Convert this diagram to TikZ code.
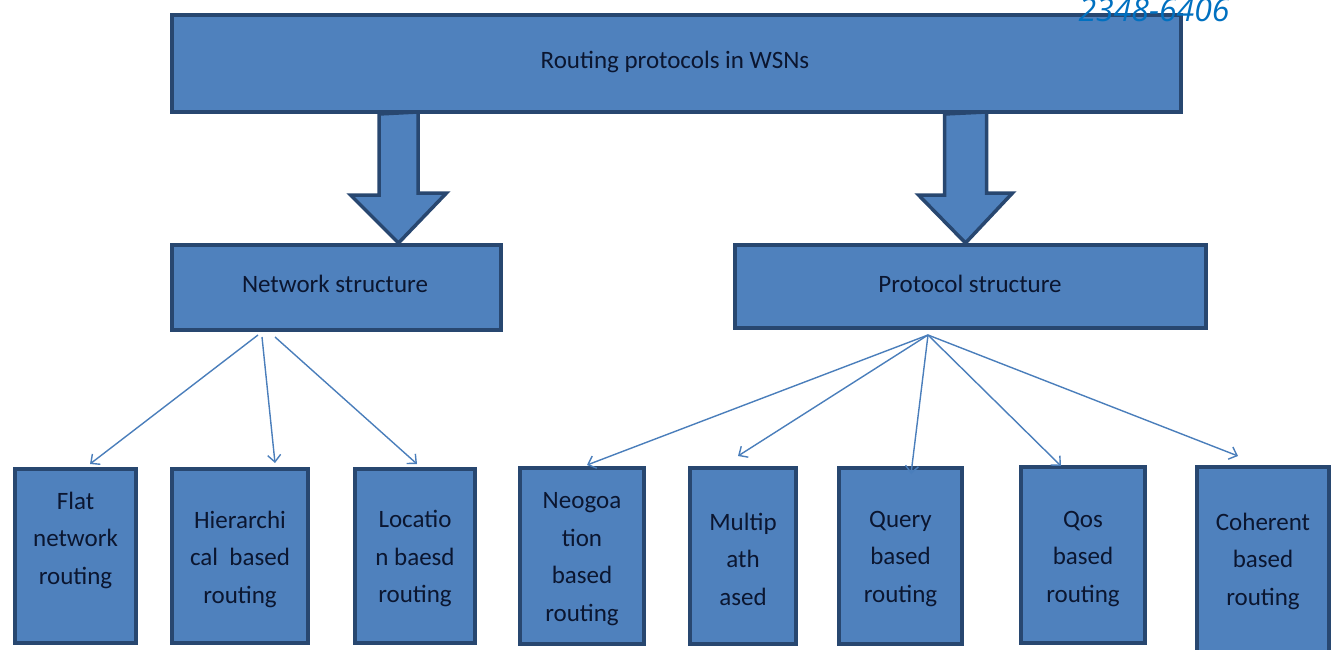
\documentclass[tikz,border=0pt]{standalone}
\usepackage{fontspec}
\setmainfont{Carlito}
\newfontfamily\issnfont{Open Sans}
\usetikzlibrary{arrows.meta,calc}
\definecolor{boxfill}{HTML}{4F81BD}
\definecolor{boxline}{HTML}{284770}
\definecolor{boxtext}{HTML}{0B1630}
\definecolor{linkblue}{HTML}{4A7EBB}
\definecolor{issnblue}{HTML}{0070C0}

\begin{document}
\begin{tikzpicture}[x=1pt,y=-1pt,
  box/.style={draw=boxline, fill=boxfill, line width=4pt, inner sep=0pt,
    text=boxtext, font=\fontsize{25}{37.5}\selectfont, align=center},
  leaf/.style={box, minimum height=174pt},
  txt/.style={inner sep=0pt, text=boxtext, font=\fontsize{25}{37.5}\selectfont, align=center},
  blk/.style={draw=boxline, fill=boxfill, line width=3.5pt, line join=miter},
  link/.style={draw=linkblue, line width=1.4pt,
    -{Straight Barb[length=7pt,width=13pt,line width=1.4pt]}}]
\useasboundingbox (0,0) rectangle (1336,650);

% root and the two classes
\node[box, minimum width=1009pt, minimum height=97pt] (top) at (676.5,63.5) {};
\node[txt] (top-t) at (675,62) {Routing protocols in WSNs};
\node[box, minimum width=329pt, minimum height=85pt] (net) at (336.5,287.5) {};
\node[txt] (net-t) at (335,284) {Network structure};
\node[box, minimum width=471pt, minimum height=83pt] (prot) at (970.5,286.5) {};
\node[txt] (prot-t) at (970,284) {Protocol structure};

% leaf categories
\node[leaf, minimum width=121pt] (flat) at (75.5,556) {};
\node[txt] (flat-t) at (75.5,540) {Flat\\network\\routing};
\node[leaf, minimum width=136pt] (hier) at (240,556) {};
\node[txt] (hier-t) at (240,559) {Hierarchi\\cal\ \ based\\routing};
\node[leaf, minimum width=120pt] (loc) at (415,556) {};
\node[txt] (loc-t) at (415,559) {Locatio\\n baesd\\routing};
\node[leaf, minimum width=124pt, minimum height=176pt] (neg) at (582,556) {};
\node[txt] (neg-t) at (582,559) {Neogoa\\tion\\based\\routing};
\node[leaf, minimum width=106pt, minimum height=176pt] (multi) at (743,556) {};
\node[txt] (multi-t) at (743,559) {Multip\\ath\\ased};
\node[leaf, minimum width=123pt, minimum height=176pt] (query) at (900.5,556) {};
\node[txt] (query-t) at (900.5,559) {Query\\based\\routing};
\node[leaf, minimum width=124pt, minimum height=176pt] (qos) at (1083,555) {};
\node[txt] (qos-t) at (1083,559) {Qos\\based\\routing};
\node[leaf, minimum width=132pt, minimum height=190pt] (coh) at (1263,562) {};
\node[txt] (coh-t) at (1263,561) {Coherent\\based\\routing};

% block arrows from the root to the two classes
\coordinate (la) at (398.5,114);
\coordinate (ra) at (965.5,114);
\draw[blk] ([xshift=-19.5pt]la) -- ++(0,81) -- ++(-28.5,0) -- (la |- net.north)
  -- ++(48,-50) -- ++(-28.5,0) -- ++(0,-81) -- cycle;
\draw[blk] ([xshift=-21pt]ra) -- ++(0,81) -- ++(-26,0) -- (ra |- prot.north)
  -- ++(47,-50) -- ++(-26,0) -- ++(0,-81) -- cycle;

% thin links to the leaves
\draw[link] ([xshift=-78.5pt,yshift=-3pt]net.south) -- ([xshift=14.5pt,yshift=3pt]flat.north);
\draw[link] ([xshift=-74.5pt,yshift=-5pt]net.south) -- ([xshift=35pt,yshift=4pt]hier.north);
\draw[link] ([xshift=-61.5pt,yshift=-5pt]net.south) -- ([xshift=2pt,yshift=3pt]loc.north);

\coordinate (ps) at ([xshift=-42.5pt,yshift=-5pt]prot.south);
\draw[link] (ps) -- ([xshift=5pt,yshift=1pt]neg.north);
\draw[link] (ps) -- ([xshift=-5pt,yshift=10pt]multi.north);
\draw[link] (ps) -- ([xshift=10.5pt,yshift=-8pt]query.north);
\draw[link] (ps) -- ([xshift=-22pt,yshift=-1pt]qos.north);
\draw[link] (ps) -- ([xshift=-25pt,yshift=9pt]coh.north);

% journal number at the top edge
\node[inner sep=0pt, anchor=base, text=issnblue,
  font=\issnfont\itshape\fontsize{32}{32}\selectfont] (issn) at (1154,22) {2348-6406};
\end{tikzpicture}
\end{document}
